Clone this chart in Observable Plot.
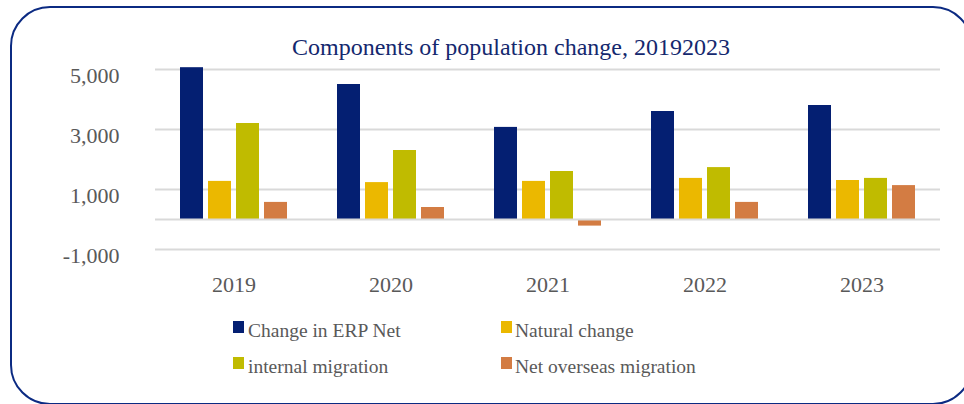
<!DOCTYPE html>
<html>
<head>
<meta charset="utf-8">
<script src="https://cdn.jsdelivr.net/npm/d3@7"></script>
<script src="https://cdn.jsdelivr.net/npm/@observablehq/plot@0.6"></script>
<style>
  html, body { margin: 0; padding: 0; background: #ffffff; }
  #wrap { position: relative; width: 964px; height: 404px; overflow: hidden; font-family: "Liberation Serif", "DejaVu Serif", serif; }
  #border { position: absolute; left: 10px; top: 6px; width: 963px; height: 399px; box-sizing: border-box; border: 2.5px solid #0b2a82; border-radius: 40px; pointer-events: none; }
  #title { position: absolute; left: 0; width: 1022px; top: 33px; text-align: center; font-family: "Liberation Serif", serif; font-size: 24px; color: #14286e; white-space: nowrap; line-height: 28px; }
  #chart { position: absolute; left: 0; top: 0; }
  .leg { position: absolute; font-family: "Liberation Serif", serif; font-size: 19.5px; color: #595959; white-space: nowrap; line-height: 22px; }
  .sw { position: absolute; width: 11px; height: 12px; }
</style>
</head>
<body>
<div id="wrap">
  <div id="chart"></div>
  <div id="title"></div>
  <div id="legend"></div>
  <div id="border"></div>
</div>
<script>
const years = ["2019", "2020", "2021", "2022", "2023"];
const series = ["Change in ERP Net", "Natural change", "internal migration", "Net overseas migration"];
const erpNet = [5060, 4500, 3070, 3600, 3800];
const naturalChange = [1270, 1230, 1270, 1370, 1300];
const internalMigration = [3200, 2300, 1600, 1730, 1370];
const netOverseas = [570, 400, -220, 570, 1130];
const yTicks = [-1000, 1000, 3000, 5000];
const colors = ["#041f72", "#ebb800", "#c0bb00", "#d37c43"];
const titleText = "Components of population change, 20192023";

const valuesBySeries = [erpNet, naturalChange, internalMigration, netOverseas];
const data = [];
years.forEach((yr, i) => {
  series.forEach((s, j) => {
    data.push({ year: yr, series: s, value: valuesBySeries[j][i] });
  });
});

const fmt = d3.format(",");
const tickFmt = d => fmt(d).replace("\u2212", "-");

const plot = Plot.plot({
  width: 964,
  height: 404,
  marginLeft: 153,
  marginRight: 23,
  marginTop: 69,
  marginBottom: 155,
  style: { fontFamily: "Liberation Serif, serif", fontSize: "22px", color: "#595959", background: "transparent" },
  fx: { domain: years, padding: 0, label: null },
  x: { domain: series, paddingInner: 0.187, paddingOuter: 0.88, axis: null },
  y: { domain: [-1000, 5000], label: null },
  color: { domain: series, range: colors },
  marks: [
    Plot.ruleY(yTicks, { stroke: "#d9d9d9", strokeWidth: 2 }),
    Plot.barY(data, { fx: "year", x: "series", y: "value", fill: "series" }),
    Plot.ruleY([0], { stroke: "#d9d9d9", strokeWidth: 2 }),
    Plot.axisY(yTicks, { tickSize: 0, tickPadding: 36, dy: 6, tickFormat: tickFmt, label: null, fill: "#595959", fontSize: 22 }),
    Plot.axisFx({ anchor: "bottom", tickSize: 0, tickPadding: 27, label: null, fill: "#595959", fontSize: 22 })
  ]
});
document.getElementById("chart").appendChild(plot);

document.getElementById("title").textContent = titleText;

const legendPos = [
  { sx: 233, sy: 321, tx: 248, ty: 320 },
  { sx: 501, sy: 321, tx: 515, ty: 320 },
  { sx: 233, sy: 357, tx: 248, ty: 356 },
  { sx: 501, sy: 357, tx: 515, ty: 356 }
];
const legend = document.getElementById("legend");
series.forEach((s, i) => {
  const p = legendPos[i];
  const sw = document.createElement("div");
  sw.className = "sw";
  sw.style.left = p.sx + "px";
  sw.style.top = p.sy + "px";
  sw.style.background = colors[i];
  legend.appendChild(sw);
  const t = document.createElement("div");
  t.className = "leg";
  t.style.left = p.tx + "px";
  t.style.top = p.ty + "px";
  t.textContent = s;
  legend.appendChild(t);
});
</script>
</body>
</html>
